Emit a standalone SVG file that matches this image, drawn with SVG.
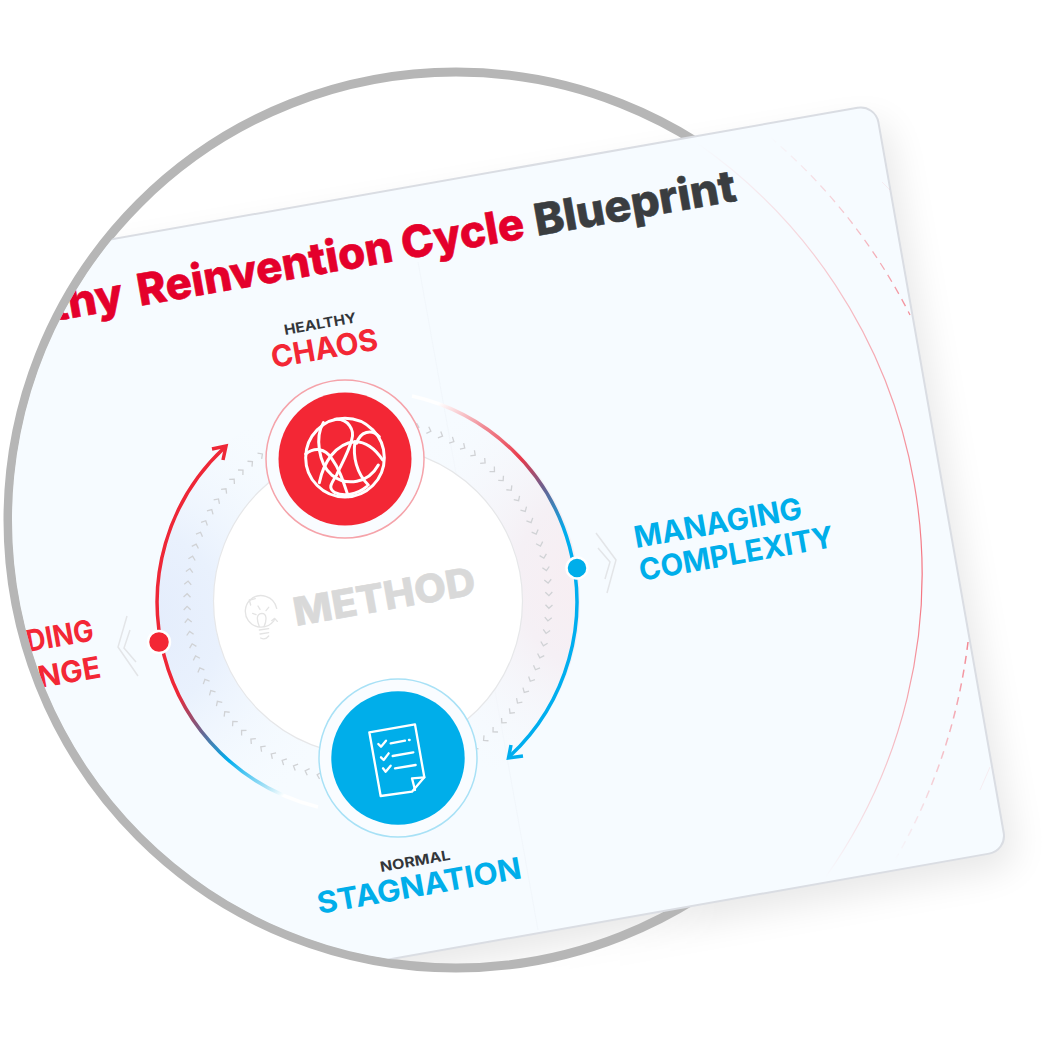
<svg xmlns="http://www.w3.org/2000/svg" width="1060" height="1040" viewBox="0 0 1060 1040">
<style>
text{font-family:"Inter","Liberation Sans",sans-serif;font-weight:800}
.title{font-size:44px;stroke-width:.6px}
.small{font-size:14px;font-weight:700;fill:#33363a}
.big{font-size:30px;font-weight:700}
.red{fill:#f32735}
.blue{fill:#00aeea}
.sc{fill:none;stroke:#e3e5e8;stroke-width:1.5}
.ic{fill:none;stroke:#fff;stroke-linecap:round;stroke-linejoin:round}
.bulb{fill:none;stroke:#e4e4e4;stroke-width:4;stroke-linecap:round;stroke-linejoin:round}
</style>
<defs>
<clipPath id="cardclip"><circle cx="456" cy="520" r="444"/><rect x="456" y="0" width="604" height="1040"/></clipPath>
<linearGradient id="fadeX" gradientUnits="userSpaceOnUse" x1="520" y1="0" x2="720" y2="0"><stop offset="0" stop-color="#000"/><stop offset="1" stop-color="#fff"/></linearGradient>
<mask id="shadowmask" maskUnits="userSpaceOnUse" x="0" y="0" width="1060" height="1040"><rect width="1060" height="1040" fill="url(#fadeX)"/><circle cx="456" cy="520" r="448" fill="#fff"/></mask>
<filter id="blur" x="-20%" y="-20%" width="140%" height="140%"><feGaussianBlur stdDeviation="18"/></filter>
<linearGradient id="arcR" gradientUnits="userSpaceOnUse" x1="412" y1="396" x2="578" y2="570">
<stop offset="0" stop-color="#fff"/><stop offset=".1" stop-color="#fff"/><stop offset=".3" stop-color="#f08a94"/><stop offset=".5" stop-color="#e8394a"/><stop offset=".65" stop-color="#6d5f8e"/><stop offset=".85" stop-color="#00aeef"/>
</linearGradient>
<linearGradient id="arcL" gradientUnits="userSpaceOnUse" x1="318" y1="807" x2="159" y2="642">
<stop offset="0" stop-color="#fff"/><stop offset=".14" stop-color="#fff"/><stop offset=".22" stop-color="#a9e2f6"/><stop offset=".42" stop-color="#00aeef"/><stop offset=".62" stop-color="#80587e"/><stop offset=".78" stop-color="#ee2737"/>
</linearGradient>
<radialGradient id="bandL" gradientUnits="userSpaceOnUse" cx="130" cy="620" r="235">
<stop offset="0" stop-color="#e3ecfc"/><stop offset=".4" stop-color="#e9f1fd"/><stop offset="1" stop-color="#f6fbff" stop-opacity="0"/>
</radialGradient>
<radialGradient id="bandR" gradientUnits="userSpaceOnUse" cx="610" cy="580" r="235">
<stop offset="0" stop-color="#f8edf1"/><stop offset=".4" stop-color="#f5f0f5"/><stop offset="1" stop-color="#f6fbff" stop-opacity="0"/>
</radialGradient>
<linearGradient id="thin" gradientUnits="userSpaceOnUse" x1="0" y1="143" x2="0" y2="878">
<stop offset="0" stop-color="#f4626f" stop-opacity="0"/><stop offset=".3" stop-color="#f4626f" stop-opacity=".55"/><stop offset=".6" stop-color="#f4626f" stop-opacity=".9"/><stop offset=".78" stop-color="#f4626f" stop-opacity=".5"/><stop offset="1" stop-color="#f4626f" stop-opacity="0"/>
</linearGradient>
<linearGradient id="dashT" gradientUnits="userSpaceOnUse" x1="770" y1="137" x2="910" y2="315">
<stop offset="0" stop-color="#f26a78" stop-opacity="0"/><stop offset="1" stop-color="#f26a78" stop-opacity=".75"/>
</linearGradient>
<linearGradient id="dashB" gradientUnits="userSpaceOnUse" x1="968" y1="642" x2="895" y2="860">
<stop offset="0" stop-color="#f26a78" stop-opacity=".8"/><stop offset="1" stop-color="#f26a78" stop-opacity="0"/>
</linearGradient>
<path id="cv" d="M365.5,416.5 L369,420 L365.5,423.5" fill="none" stroke="#d0d2d5" stroke-width="1.3"/>
<g id="cv5">
<use href="#cv"/><use href="#cv" transform="rotate(4 368 601)"/><use href="#cv" transform="rotate(8 368 601)"/><use href="#cv" transform="rotate(12 368 601)"/><use href="#cv" transform="rotate(16 368 601)"/>
</g>
</defs>
<rect width="1060" height="1040" fill="#fff"/>
<g id="shadow" mask="url(#shadowmask)">
<rect x="-1000" y="0" width="1000" height="757" rx="18" transform="translate(886,120) rotate(-10)" fill="#000" opacity=".09" filter="url(#blur)"/>
</g>
<circle id="ring" cx="456" cy="520" r="448" fill="none" stroke="#b6b6b6" stroke-width="9"/>
<g id="card" clip-path="url(#cardclip)">
<rect x="-1000" y="0" width="1000" height="757.4" rx="18" transform="translate(875.3,104.6) rotate(-10)" fill="#f6fbff" stroke="#dadde3" stroke-width="2"/>
<path d="M418,262 L538,930" fill="none" stroke="#eef3f8" stroke-width="1" opacity=".6"/>
<path d="M697,143 A525,525 0 0 1 825,878" fill="none" stroke="url(#thin)" stroke-width="1.2"/>
<path d="M770,137 A571,571 0 0 1 910,315" fill="none" stroke="url(#dashT)" stroke-width="1.3" stroke-dasharray="8 6"/>
<path d="M968,642 A571,571 0 0 1 895,860" fill="none" stroke="url(#dashB)" stroke-width="1.5" stroke-dasharray="8 6"/>
<path d="M882,182 L890,190" fill="none" stroke="#f26a78" stroke-opacity=".1"/>
<path d="M990,767 L980,790" fill="none" stroke="#f26a78" stroke-opacity=".1"/>
<g id="title">
<text class="title" fill="#e4002b" stroke="#e4002b" transform="translate(140,306) rotate(-10)" x="-88" textLength="73" lengthAdjust="spacingAndGlyphs">thy</text>
<text class="title" fill="#e4002b" stroke="#e4002b" transform="translate(140,306) rotate(-10)" textLength="392" lengthAdjust="spacingAndGlyphs">Reinvention Cycle</text>
<text class="title" fill="#3a3d40" stroke="#3a3d40" transform="translate(140,306) rotate(-10)" x="403" textLength="204" lengthAdjust="spacingAndGlyphs">Blueprint</text>
</g>
<circle id="bandLeft" cx="368" cy="601" r="183" fill="none" stroke="url(#bandL)" stroke-width="58"/>
<circle id="bandRight" cx="368" cy="601" r="183" fill="none" stroke="url(#bandR)" stroke-width="58"/>
<circle id="core" cx="368" cy="601" r="154.5" fill="#fff" stroke="#e6e7e9" stroke-width="1.2"/>
<g id="chevrons">
<use href="#cv5"/><use href="#cv5" transform="rotate(20 368 601)"/><use href="#cv5" transform="rotate(40 368 601)"/><use href="#cv5" transform="rotate(60 368 601)"/><use href="#cv5" transform="rotate(80 368 601)"/><use href="#cv5" transform="rotate(100 368 601)"/><use href="#cv5" transform="rotate(120 368 601)"/><use href="#cv5" transform="rotate(140 368 601)"/><use href="#cv5" transform="rotate(160 368 601)"/><use href="#cv5" transform="rotate(180 368 601)"/><use href="#cv5" transform="rotate(200 368 601)"/><use href="#cv5" transform="rotate(220 368 601)"/><use href="#cv5" transform="rotate(240 368 601)"/><use href="#cv5" transform="rotate(260 368 601)"/><use href="#cv5" transform="rotate(280 368 601)"/><use href="#cv5" transform="rotate(300 368 601)"/><use href="#cv5" transform="rotate(320 368 601)"/><use href="#cv5" transform="rotate(340 368 601)"/>
</g>
<g id="connectors">
<path d="M412,396 A211,211 0 0 1 510,756" fill="none" stroke="url(#arcR)" stroke-width="3.5"/>
<path d="M511,745 L508.5,758 L523,756" fill="none" stroke="#00aeef" stroke-width="3.5"/>
<path d="M318,807 A211,211 0 0 1 224,448" fill="none" stroke="url(#arcL)" stroke-width="3.5"/>
<path d="M212,449 L226,446 L223,460" fill="none" stroke="#ee2737" stroke-width="3.5"/>
<path class="sc" d="M596,533 L616,560 L607,593"/>
<path class="sc" d="M598,548 L610,562 L605,579"/>
<path class="sc" d="M127,616 L118,647 L138,676"/>
<path class="sc" d="M130,630 L124,648 L136,662"/>
<circle cx="577" cy="568" r="10.5" fill="#00aeea" stroke="#fff" stroke-width="2.5"/>
<circle cx="159" cy="642" r="11" fill="#f32735" stroke="#fff" stroke-width="2.5"/>
</g>
<g id="method">
<text transform="translate(296,626) rotate(-10)" font-size="39" fill="#d9d9d9" stroke="#d9d9d9" stroke-width=".6" textLength="184" lengthAdjust="spacingAndGlyphs">METHOD</text>
<g transform="translate(230,550) scale(.3333)">
<path class="bulb" d="M60,150 A48,48 0 0 1 140,175"/>
<path class="bulb" d="M132,212 A48,48 0 0 1 55,212 A48,48 0 0 1 60,150"/>
<path class="bulb" d="M58,150 L62,165 M60,150 L76,146"/>
<path class="bulb" d="M125,212 L134,205 L142,214"/>
<path class="bulb" d="M88,230 C80,210 78,192 95,190 C112,190 110,212 102,230 M84,168 L90,178 M116,172 L108,182 M68,190 L78,194"/>
<path class="bulb" d="M88,240 L116,236 M90,252 L116,248 M92,264 C100,268 110,266 116,258"/>
</g>
</g>
<g id="node-chaos">
<circle cx="345" cy="459" r="79" fill="#f9fcff" stroke="#f5a3aa" stroke-width="1.5"/>
<circle cx="345" cy="459" r="66.5" fill="#f32735"/>
<g class="ic" transform="translate(240,300) scale(.3333)" stroke-width="9">
<circle cx="315" cy="473" r="118"/>
<path d="M197,462 C225,440 255,445 275,475 C300,510 310,545 325,590"/>
<path d="M238,548 C250,490 285,430 345,425 C375,425 405,445 428,480"/>
<path d="M250,368 C225,410 235,490 275,525 C320,560 385,550 415,495"/>
<path d="M285,358 C325,355 345,390 335,420 C325,460 300,500 290,525 C270,555 265,565 285,578 C310,590 350,585 380,560"/>
<path d="M345,425 C338,470 350,520 385,555"/>
<path d="M418,410 C395,385 360,395 350,430"/>
</g>
<text class="small" transform="translate(285,335) rotate(-10)" textLength="73" lengthAdjust="spacingAndGlyphs">HEALTHY</text>
<text class="big red" transform="translate(273,368) rotate(-10)" textLength="108" lengthAdjust="spacingAndGlyphs">CHAOS</text>
</g>
<g id="node-stagnation">
<circle cx="398" cy="758" r="79" fill="#f9fcff" stroke="#a8e1f6" stroke-width="1.5"/>
<circle cx="398" cy="758" r="66.7" fill="#00aeea"/>
<g class="ic" transform="translate(300,670) scale(.3333)" stroke-width="7">
<path d="M208,187 L345,163 L373,322 L336,365 L242,378 Z"/>
<path d="M336,325 L373,322 M336,325 L345,360"/>
<path d="M235,222 L243,230 L258,212 M272,220 L315,212 M327,210 L329,210"/>
<path d="M243,262 L251,270 L266,250 M278,258 L340,247"/>
<path d="M249,295 L257,305 L272,287 M285,295 L347,285"/>
</g>
<text class="small" transform="translate(381,872) rotate(-10)" textLength="71" lengthAdjust="spacingAndGlyphs">NORMAL</text>
<text class="big blue" transform="translate(319,914) rotate(-10)" textLength="207" lengthAdjust="spacingAndGlyphs">STAGNATION</text>
</g>
<g id="label-complexity">
<text class="big blue" transform="translate(636,548) rotate(-10)" textLength="170" lengthAdjust="spacingAndGlyphs">MANAGING</text>
<text class="big blue" transform="translate(641,581) rotate(-10)" textLength="197" lengthAdjust="spacingAndGlyphs">COMPLEXITY</text>
</g>
<g id="label-left">
<text class="big red" transform="translate(28,652) rotate(-10)" textLength="68" lengthAdjust="spacingAndGlyphs">DING</text>
<text class="big red" transform="translate(40,688) rotate(-10)" textLength="63" lengthAdjust="spacingAndGlyphs">NGE</text>
</g>
</g>
</svg>
